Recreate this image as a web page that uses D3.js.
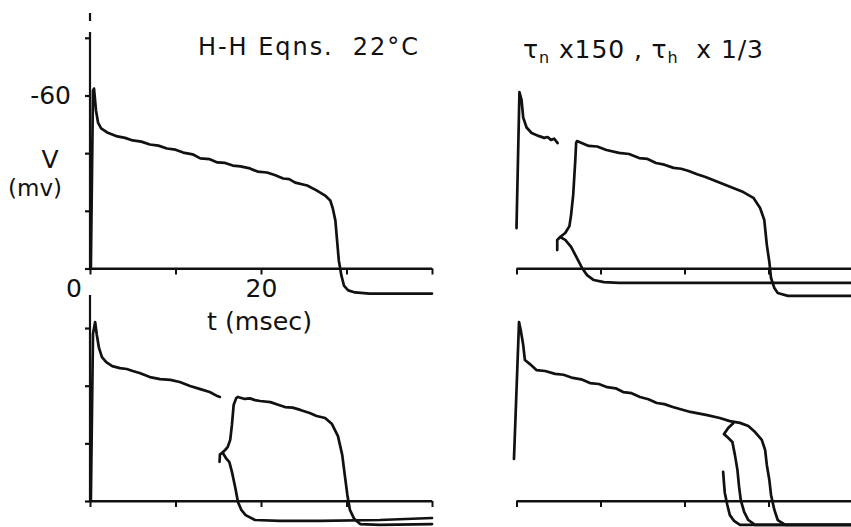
<!DOCTYPE html>
<html>
<head>
<meta charset="utf-8">
<script src="https://cdn.jsdelivr.net/npm/d3@7"></script>
<style>
  html, body { margin: 0; padding: 0; background: #fff; }
  svg { display: block; }
  text { font-family: "DejaVu Sans", "Liberation Sans", sans-serif; fill: #111; }
</style>
</head>
<body>
<svg id="chart" width="851" height="527"></svg>
<script>
// ---------------- DATA ----------------
// time in msec, V in mv (H-H sign convention: depolarisation negative)
const xTicks = [0, 10, 20, 30, 40];
const yTicks = [0, -20, -40, -60, -80];
const yTicksBottom = [0, -20, -40, -60];
const xTickLabels = ["0", "20"];
const yTickLabels = ["-60"];
const title1 = "H-H Eqns.  22°C";
const xAxisTitle = "t (msec)";
const yAxisTitle = ["V", "(mv)"];

// top-left: normal H-H action potential
const apTopLeft = [[0.1,0],[0.35,-61.7],[0.47,-62.4],[0.7,-54.8],[0.94,-50.6],[1.3,-48.6],[2.0,-47.2],[3.2,-45.8],
  [4.1,-45.3],[5.0,-44.4],[6.0,-44.0],[7.0,-43.0],[8.0,-42.6],[9.0,-41.6],[10.0,-41.2],[10.9,-40.2],[12.0,-39.6],[12.9,-38.2],
  [14.0,-37.9],[14.9,-36.8],[15.8,-36.6],[16.7,-35.7],[17.6,-35.4],[18.7,-34.7],[19.6,-33.6],[20.7,-33.3],[21.6,-32.4],
  [22.6,-31.2],[23.3,-31.0],[24.0,-29.8],[25.4,-28.8],[26.5,-27.1],[27.5,-25.3],[28.1,-23.6],[28.4,-20.8],[28.7,-16.6],
  [28.9,-9.7],[29.1,-2.8],[29.4,2.4],[29.7,5.9],[30.2,7.6],[31.0,8.3],[32.7,8.7],[40,8.7]];

// top-right: tau_n x150, tau_h x1/3
const apTopRight1 = [[0,-14.0],[0.35,-61.2],[0.6,-58.5],[0.8,-52.3],[1.2,-48.9],[1.8,-47.0],[2.7,-45.9],[3.3,-45.3],
  [3.7,-45.6],[4.1,-44.6],[4.5,-45.0],[4.9,-43.5]];
const apTopRight2 = [[4.85,-6.4],[4.85,-9.9],[5.2,-10.9],[5.8,-12.3],[6.3,-14.7],[6.5,-18.6],[6.75,-25.5],[7.0,-37.6],
  [7.1,-43.5],[7.2,-44.2],[8.6,-42.5],[9.6,-42.3],[10.7,-41.1],[12.2,-40.1],[13.4,-39.7],[14.6,-38.3],[15.6,-38.0],
  [16.6,-36.6],[17.6,-36.0],[18.7,-34.9],[19.6,-34.6],[20.5,-33.8],[21.5,-32.7],[22.5,-31.7],[24.0,-30.0],[25.8,-27.9],
  [27.0,-26.5],[28.2,-24.5],[29.0,-21.0],[29.5,-16.8],[29.8,-8.2],[30.1,-2.3],[30.3,3.3],[30.7,6.8],[31.1,8.5],[32.3,9.5],[40,9.5]];
const apTopRight3 = [[5.2,-10.9],[5.8,-9.9],[6.5,-7.5],[7.2,-3.6],[7.8,-0.2],[8.4,2.3],[9.2,4.0],[10.4,4.7],[12.2,5.0],[40,5.0]];

// bottom-left: H-H, second stimulus
const apBottomLeft1 = [[0.1,0],[0.35,-58],[0.6,-62.1],[0.8,-57.6],[1.05,-53.1],[1.4,-49.9],[1.9,-48.2],[2.6,-46.8],
  [3.5,-46.1],[4.3,-45.8],[5.0,-45.1],[5.8,-44.4],[7.0,-43.0],[8.2,-42.3],[9.4,-42.0],[10.5,-41.3],[11.7,-39.9],
  [12.9,-38.8],[14.0,-37.8],[14.9,-36.4],[15.2,-36.1]];
const apBottomLeft2 = [[15.15,-13.6],[15.2,-16.2],[15.5,-16.8],[15.8,-17.7],[16.1,-18.7],[16.4,-21.2],[16.6,-26.4],
  [16.8,-33.3],[17.1,-35.7],[17.3,-36.1],[18.1,-35.4],[18.7,-35.6],[19.3,-35.0],[19.9,-34.7],[21.1,-34.3],[22.0,-33.4],
  [22.8,-32.6],[23.7,-32.4],[24.6,-31.6],[25.7,-30.5],[26.5,-29.5],[27.5,-28.8],[28.3,-26.7],[29.0,-22.5],[29.5,-16.0],
  [29.8,-9.0],[30.1,-2.1],[30.4,3.1],[30.9,6.2],[31.6,8.0],[33.9,8.3],[40,8.0]];
const apBottomLeft3 = [[15.5,-16.8],[15.9,-14.9],[16.3,-13.5],[16.6,-10.1],[17.0,-4.5],[17.3,0.3],[17.7,3.1],[18.2,4.9],
  [19.3,6.6],[22.2,6.9],[26.9,6.9],[33.9,6.6],[40,5.9]];

// bottom-right: tau_n x150, tau_h x1/3, late stimuli
const apBottomRight1 = [[-0.3,-14.6],[0.3,-62.1],[0.5,-59.3],[0.8,-54.1],[1.0,-48.9],[1.6,-47.5],[2.4,-45.4],[3.4,-45.1],
  [4.6,-44.1],[5.6,-43.8],[6.7,-42.7],[7.7,-42.2],[8.75,-40.9],[9.8,-40.6],[10.8,-39.5],[11.8,-39.1],[12.7,-37.8],
  [13.7,-37.4],[14.7,-36.1],[15.7,-35.3],[16.7,-34.0],[17.6,-33.6],[18.6,-32.6],[20.7,-30.9],[22.7,-29.8],[24.2,-28.8],
  [25.4,-27.7],[26.6,-27.1],[27.6,-26.0],[28.4,-23.9],[29.2,-21.2],[29.6,-17.7],[29.8,-12.5],[30.1,-7.3],[30.3,-2.1],
  [30.7,3.1],[31.1,6.6],[32.0,8.3],[40,8.3]];
const apBottomRight2 = [[25.8,-27.0],[25.2,-25.3],[24.7,-23.2],[25.1,-22.2],[25.7,-20.5],[26.0,-16.0],[26.3,-10.8],
  [26.5,-4.9],[26.7,-0.3],[27.1,3.8],[27.6,6.6],[28.4,8.3],[40,8.3]];
const apBottomRight3 = [[24.6,-10.1],[24.7,-6.2],[24.8,-2.8],[25.1,1.4],[25.4,4.9],[25.9,6.9],[26.6,8.3],[40,8.3]];

// ---------------- DRAW ----------------
const svg = d3.select("#chart");
const ink = "#111";

const xLeft = d3.scaleLinear().domain([0, 40]).range([90, 432]);
const xRight = d3.scaleLinear().domain([0, 40]).range([516.5, 852.5]);
const yTop = d3.scaleLinear().domain([0, -80]).range([268.5, 37.8]);
const yBot = d3.scaleLinear().domain([0, -80]).range([501, 270.4]);

function drawXAxis(x, y, labels) {
  const g = svg.append("g").attr("transform", `translate(0,${y(0)})`)
    .call(d3.axisBottom(x).tickValues(xTicks.filter(t => x(t) <= 851)).tickSize(6).tickSizeOuter(0)
      .tickFormat(d => labels && labels.includes(String(d)) && d !== 0 ? String(d) : ""));
  g.select(".domain").attr("stroke", ink).attr("stroke-width", 2.2);
  g.selectAll(".tick line").attr("stroke", ink).attr("stroke-width", 2);
  g.selectAll(".tick text").attr("font-size", 25).attr("y", 10).attr("dy", "0.74em").attr("fill", ink);
  g.append("line").attr("x1", x.range()[0]).attr("x2", Math.min(x(40), 851))
    .attr("stroke", ink).attr("stroke-width", 2.2);
  return g;
}

function drawYAxis(y, ticks, top, labels) {
  const g = svg.append("g").attr("transform", `translate(${xLeft(0)},0)`)
    .call(d3.axisLeft(y).tickValues(ticks).tickSize(5).tickSizeOuter(0)
      .tickFormat(d => labels && labels.includes(String(d)) ? String(d) : ""));
  g.select(".domain").remove();
  g.append("line").attr("y1", top).attr("y2", y(0)).attr("stroke", ink).attr("stroke-width", 2.2);
  g.selectAll(".tick line").attr("stroke", ink).attr("stroke-width", 2.2);
  g.selectAll(".tick text").attr("font-size", 25).attr("x", -19).attr("fill", ink);
  return g;
}

function drawCurve(data, x, y) {
  const line = d3.line().x(d => x(d[0])).y(d => y(d[1])).curve(d3.curveLinear);
  svg.append("path").datum(data).attr("d", line)
    .attr("fill", "none").attr("stroke", ink).attr("stroke-width", 2.7)
    .attr("stroke-linejoin", "round").attr("stroke-linecap", "round");
}

// axes
drawXAxis(xLeft, yTop, xTickLabels);
drawYAxis(yTop, yTicks, 32, yTickLabels);
svg.append("line").attr("x1", xLeft(0)).attr("x2", xLeft(0)).attr("y1", 13).attr("y2", 21)
  .attr("stroke", ink).attr("stroke-width", 2.2);
drawXAxis(xRight, yTop, null);
drawXAxis(xLeft, yBot, null);
drawYAxis(yBot, yTicksBottom, 295, null);
drawXAxis(xRight, yBot, null);

// curves
[apTopLeft].forEach(d => drawCurve(d, xLeft, yTop));
[apTopRight1, apTopRight2, apTopRight3].forEach(d => drawCurve(d, xRight, yTop));
[apBottomLeft1, apBottomLeft2, apBottomLeft3].forEach(d => drawCurve(d, xLeft, yBot));
[apBottomRight1, apBottomRight2, apBottomRight3].forEach(d => drawCurve(d, xRight, yBot));

// texts
svg.append("text").attr("x", 74).attr("y", 297).attr("text-anchor", "middle").attr("font-size", 25).text(xTickLabels[0]);
svg.append("text").attr("x", 207).attr("y", 330).attr("font-size", 24)
  .attr("textLength", 105).attr("lengthAdjust", "spacingAndGlyphs").text(xAxisTitle);
svg.append("text").attr("x", 50).attr("y", 168).attr("text-anchor", "middle").attr("font-size", 25).text(yAxisTitle[0]);
svg.append("text").attr("x", 8).attr("y", 196).attr("font-size", 23)
  .attr("textLength", 54).attr("lengthAdjust", "spacingAndGlyphs").text(yAxisTitle[1]);
svg.append("text").attr("x", 198).attr("y", 55).attr("font-size", 24)
  .attr("textLength", 220).attr("lengthAdjust", "spacing").style("white-space", "pre").text(title1);

const t2 = svg.append("text").attr("x", 523).attr("y", 58).attr("font-size", 25)
  .attr("textLength", 240).attr("lengthAdjust", "spacing").style("white-space", "pre");
t2.append("tspan").text("τ");
t2.append("tspan").attr("font-size", 16).attr("dy", 5).text("n");
t2.append("tspan").attr("dy", -5).text(" x150 , τ");
t2.append("tspan").attr("font-size", 16).attr("dy", 5).text("h");
t2.append("tspan").attr("dy", -5).text("  x 1/3");
</script>
</body>
</html>
